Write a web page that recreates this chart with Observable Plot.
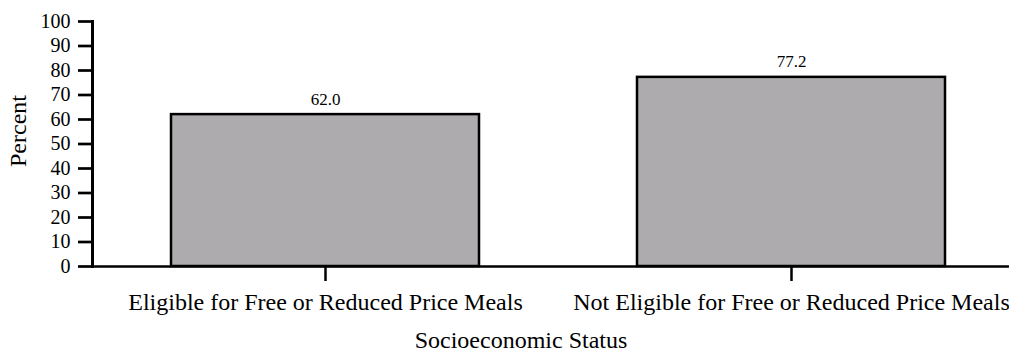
<!DOCTYPE html>
<html>
<head>
<meta charset="utf-8">
<script src="https://cdn.jsdelivr.net/npm/d3@7"></script>
<script src="https://cdn.jsdelivr.net/npm/@observablehq/plot@0.6"></script>
<style>
  html, body { margin: 0; padding: 0; background: #ffffff; }
  #chart svg { display: block; }
  #chart svg, #chart svg g, #chart svg text { font-family: 'Liberation Serif', 'Times New Roman', serif !important; }
</style>
</head>
<body>
<div id="chart"></div>
<script>
const categories = [
  "Eligible for Free or Reduced Price Meals",
  "Not Eligible for Free or Reduced Price Meals"
];
const percents = [62.0, 77.2];
const yTicks = [0, 10, 20, 30, 40, 50, 60, 70, 80, 90, 100];
const yLabel = "Percent";
const xLabel = "Socioeconomic Status";

const data = categories.map((c, i) => ({category: c, value: percents[i]}));
const serif = "'Liberation Serif', 'Times New Roman', serif";

const chart = Plot.plot({
  width: 1009,
  height: 352,
  marginLeft: 92,
  marginRight: 0,
  marginTop: 21,
  marginBottom: 86,
  style: {fontFamily: serif, background: "#ffffff", color: "#000"},
  x: {domain: categories, paddingInner: 0.34, paddingOuter: 0.152, align: 0.55, axis: null},
  y: {domain: [0, 100], axis: null},
  marks: [
    Plot.barY(data, {x: "category", y: "value", fill: "#adabae", stroke: "#000", strokeWidth: 2.5}),
    Plot.ruleY([0], {stroke: "#000", strokeWidth: 2.6}),
    Plot.frame({anchor: "left", stroke: "#000", strokeWidth: 3}),
    Plot.axisY({ticks: yTicks, tickSize: 14, tickPadding: 8, fontSize: 20, fontFamily: serif, strokeWidth: 2.7, label: null, ariaLabel: "y-ticks"}),
    Plot.axisX({tickSize: 15, tickPadding: 11, fontSize: 24, fontFamily: serif, strokeWidth: 2.5, label: null}),
    Plot.text(data, {x: "category", y: "value", text: d => d.value.toFixed(1), lineAnchor: "bottom", dy: -10, fontSize: 17, fontFamily: serif, fill: "#000", ariaLabel: "value-labels"}),
    Plot.text([yLabel], {frameAnchor: "left", textAnchor: "middle", lineAnchor: "middle", rotate: -90, dx: -74, dy: -13, fontSize: 24, fontFamily: serif, fill: "#000"}),
    Plot.text([xLabel], {frameAnchor: "bottom", textAnchor: "middle", lineAnchor: "bottom", dx: -30, dy: 81, fontSize: 24, fontFamily: serif, fill: "#000"})
  ]
});

document.getElementById("chart").appendChild(chart);

// widen the numerals horizontally to match the reference's wide digits
function stretch(selector, sx) {
  chart.querySelectorAll(selector).forEach(t => {
    const tr = t.getAttribute("transform") || "";
    t.setAttribute("transform", (tr + ` scale(${sx},1)`).trim());
  });
}
stretch('g[aria-label="y-axis tick label"] text', 1.3);
stretch('g[aria-label="value-labels"] text', 1.22);
</script>
</body>
</html>
